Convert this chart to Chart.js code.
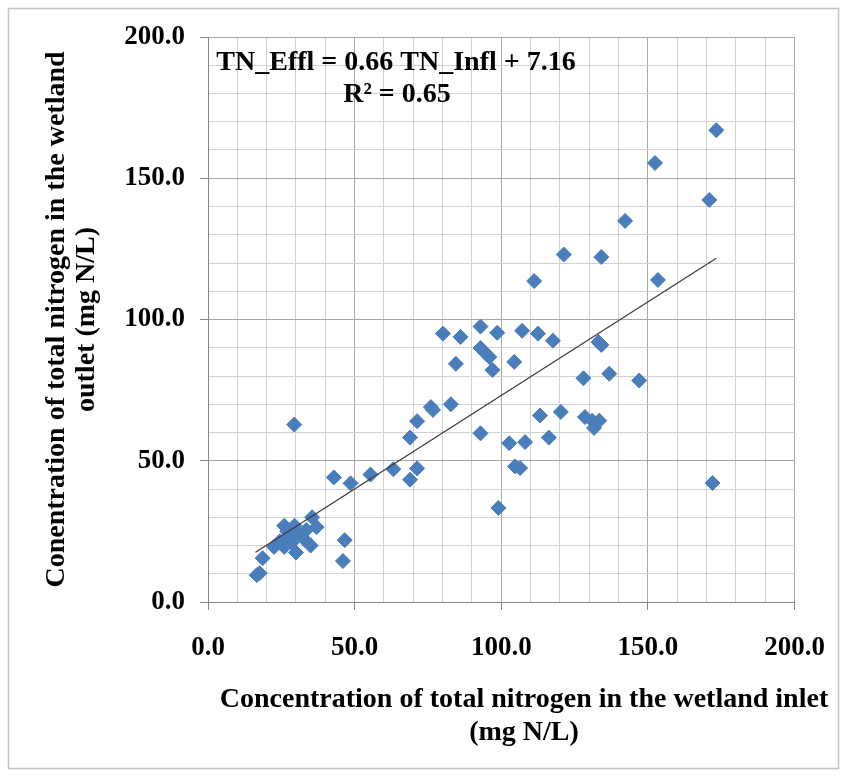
<!DOCTYPE html>
<html>
<head>
<meta charset="utf-8">
<title>TN inlet vs outlet</title>
<script src="https://cdn.jsdelivr.net/npm/chart.js"></script>
<style>
  html, body { margin: 0; padding: 0; background: #fff; }
  #wrap { width: 847px; height: 776px; }
</style>
</head>
<body>
<div id="wrap"><canvas id="myChart" width="847" height="776"></canvas></div>
<script>
// data (mg N/L)
const inletTN = [
  173.3, 152.4, 170.9, 142.2, 121.3, 134.1, 111.2, 153.4,
  92.9, 80.1, 86.1, 98.6, 107.1, 112.5, 117.6,
  92.9, 94.6, 95.9, 133.1, 134.1, 84.5, 104.4, 97.0,
  128.0, 136.8, 147.0, 76.0, 76.7, 82.8, 71.3, 68.9,
  113.2, 120.3, 128.5, 131.0, 133.4, 131.6,
  92.9, 102.7, 108.1, 116.2, 104.7, 106.4, 99.0, 172.0,
  63.2, 68.9, 71.3, 55.4, 42.9, 48.6, 29.4, 46.6, 46.0,
  16.6, 17.6, 18.6, 22.5,
  26.0, 29.5, 35.5, 37.0, 27.5, 31.0, 33.0, 30.0, 26.0, 35.0, 24.5, 28.5, 33.5, 27.0
];
const outletTN = [
  167.0, 155.4, 142.3, 134.9, 123.0, 122.1, 113.6, 114.0,
  97.5, 95.0, 93.8, 95.3, 96.0, 95.0, 92.5,
  89.9, 88.1, 86.7, 92.0, 91.0, 84.3, 85.0, 82.1,
  79.2, 80.8, 78.4, 69.0, 68.0, 70.0, 64.0, 58.2,
  66.0, 67.3, 65.5, 64.2, 64.2, 61.6,
  59.7, 56.2, 56.6, 58.2, 48.0, 47.4, 33.3, 42.1,
  47.0, 43.3, 47.3, 45.1, 44.1, 42.0, 62.8, 21.9, 14.5,
  9.5, 10.2, 15.5, 19.5,
  27.0, 27.0, 30.0, 26.5, 23.0, 24.0, 22.0, 17.5, 19.5, 20.0, 21.5, 21.0, 25.5, 25.0
];

// linear trend line end points (as drawn)
const trendX = [16.2, 173.3];
const trendY = [17.6, 121.7];

const equationText = ['TN_Effl = 0.66 TN_Infl + 7.16', 'R\u00b2 = 0.65'];
const xTitle = ['Concentration of total nitrogen in the wetland inlet', '(mg N/L)'];
const yTitle = ['Conentration of total nitrogen in the wetland', 'outlet (mg N/L)'];

const FONT = '"Liberation Serif", "Times New Roman", serif';

const points = inletTN.map((x, i) => ({ x: x, y: outletTN[i] }));
const trend = trendX.map((x, i) => ({ x: x, y: trendY[i] }));

function isMajor(v) { return Math.abs(v % 50) < 1e-6; }

// white background + light frame around the whole figure
const framePlugin = {
  id: 'frame',
  beforeDraw(chart) {
    const ctx = chart.ctx;
    ctx.save();
    ctx.fillStyle = '#fff';
    ctx.fillRect(0, 0, chart.width, chart.height);
    ctx.strokeStyle = '#c4c4c4';
    ctx.lineWidth = 1.5;
    ctx.strokeRect(8.5, 8.5, 830, 760);
    ctx.restore();
  }
};

// equation label and x title (x title sits a bit right of the plot centre)
const textPlugin = {
  id: 'texts',
  afterDraw(chart) {
    const ctx = chart.ctx;
    const a = chart.chartArea;
    ctx.save();
    ctx.fillStyle = '#000';
    ctx.font = 'bold 28px ' + FONT;
    ctx.textAlign = 'center';
    ctx.textBaseline = 'alphabetic';
    ctx.fillText(equationText[0], a.left + 188, a.top + 33);
    ctx.fillText(equationText[1], a.left + 189, a.top + 65);
    ctx.fillText(xTitle[0], a.left + 316, a.bottom + 105);
    ctx.fillText(xTitle[1], a.left + 316, a.bottom + 138);
    ctx.restore();
  }
};

const ctx = document.getElementById('myChart').getContext('2d');
const myChart = new Chart(ctx, {
  type: 'scatter',
  data: {
    datasets: [
      {
        type: 'line',
        label: 'trend',
        data: trend,
        borderColor: '#3a3a3a',
        borderWidth: 1.2,
        pointRadius: 0,
        fill: false,
        order: 0
      },
      {
        label: 'TN',
        data: points,
        pointStyle: 'rectRot',
        pointRadius: 7.5,
        pointHoverRadius: 7.5,
        backgroundColor: '#4A7EBB',
        borderColor: '#4A7EBB',
        borderWidth: 1,
        order: 1
      }
    ]
  },
  options: {
    responsive: false,
    animation: false,
    devicePixelRatio: 1,
    layout: { padding: { top: 37, right: 47, left: 0, bottom: 0 } },
    plugins: {
      legend: { display: false },
      tooltip: { enabled: false }
    },
    scales: {
      x: {
        type: 'linear',
        min: 0,
        max: 200,
        afterFit(scale) { scale.height = 174; },
        ticks: {
          stepSize: 10,
          autoSkip: false,
          maxRotation: 0,
          padding: 22,
          color: '#000',
          font: { family: FONT, size: 27, weight: 'bold' },
          callback: v => isMajor(v) ? v.toFixed(1) : ''
        },
        grid: {
          color: c => isMajor(c.tick.value) ? '#a8a8a8' : '#d2d2d2',
          tickColor: c => isMajor(c.tick.value) ? '#868686' : 'rgba(0,0,0,0)',
          tickLength: 8,
          lineWidth: 1
        },
        border: { color: '#868686', width: 1 }
      },
      y: {
        type: 'linear',
        min: 0,
        max: 200,
        afterFit(scale) { scale.width = 208; },
        ticks: {
          stepSize: 10,
          autoSkip: false,
          padding: 15,
          color: '#000',
          font: { family: FONT, size: 27, weight: 'bold' },
          callback: v => isMajor(v) ? v.toFixed(1) : ''
        },
        grid: {
          color: c => isMajor(c.tick.value) ? '#a8a8a8' : '#d2d2d2',
          tickColor: c => isMajor(c.tick.value) ? '#868686' : 'rgba(0,0,0,0)',
          tickLength: 8,
          lineWidth: 1
        },
        border: { color: '#868686', width: 1 },
        title: {
          display: true,
          text: yTitle,
          color: '#000',
          font: { family: FONT, size: 28, weight: 'bold', lineHeight: 1.1 },
          padding: { top: 41, bottom: 0 }
        }
      }
    }
  },
  plugins: [framePlugin, textPlugin]
});
</script>
</body>
</html>
